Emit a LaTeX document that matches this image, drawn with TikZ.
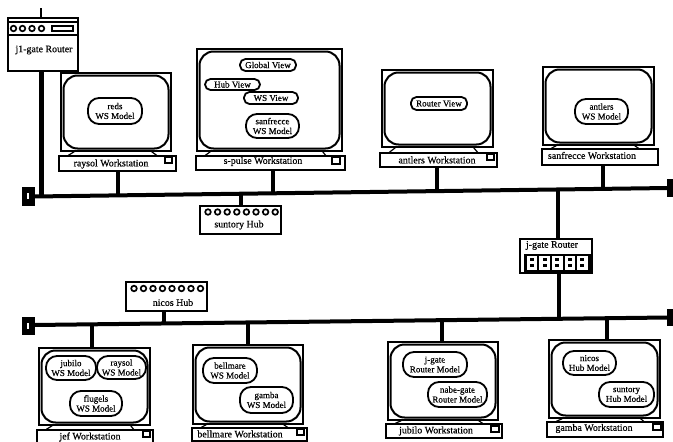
\documentclass[tikz,border=0pt]{standalone}
\usepackage{fontspec}
\setmainfont[FakeBold=0.35]{Liberation Serif}
\tikzset{
  x=1pt,y=-1pt,
  txt/.style={inner sep=0pt,font=\fontsize{9.9}{10}\selectfont,align=center},
  small/.style={inner sep=0pt,font=\fontsize{9}{9.8}\selectfont,align=center},
  box/.style={draw=black,line width=1.5pt,fill=white,inner sep=0pt,rectangle},
  cabinet/.style={box,line width=1.2pt},
  screen/.style={box,line width=2pt,rounded corners=14pt},
  pill/.style={box,line width=1.8pt,rounded corners=5.5pt,small},
  oval/.style={box,line width=1.8pt,rounded corners=11pt,small},
  base/.style={box,line width=1.3pt},
  key/.style={box,line width=1.3pt},
  foot/.style={line width=1.2pt},
  wire/.style={line width=4.2pt},
  thinwire/.style={line width=2.4pt},
  bus/.style={line width=4pt},
  term/.style={draw=black,fill=black,inner sep=0pt,rectangle},
  led/.style={circle,draw=black,line width=1.7pt,fill=white,inner sep=0pt,minimum size=5.6pt},
  port/.style={fill=white,inner sep=0pt,rectangle,minimum width=10.6pt,minimum height=14.4pt},
  portdot/.style={fill=black,inner sep=0pt,rectangle,minimum width=4pt,minimum height=3.4pt}
}
% style, name, x1, y1, x2, y2, text
\newcommand\pxbox[7]{%
  \pgfmathsetmacro\pcx{(#3+#5)/2}\pgfmathsetmacro\pcy{(#4+#6)/2}%
  \pgfmathsetmacro\pw{#5-#3}\pgfmathsetmacro\ph{#6-#4}%
  \node[#1,minimum width=\pw pt,minimum height=\ph pt] (#2) at (\pcx,\pcy) {#7};}
% name, monitor x1,y1,x2,y2, base x1,y1,x2,y2
\newcommand\monitor[9]{%
  \pxbox{cabinet}{#1cab}{#2}{#3}{#4}{#5}{}%
  \pgfmathsetmacro\sa{#2+2.5}\pgfmathsetmacro\sb{#3+2.5}\pgfmathsetmacro\sc{#4-2.5}\pgfmathsetmacro\sd{#5-2.5}%
  \pxbox{screen}{#1scr}{\sa}{\sb}{\sc}{\sd}{}%
  \pxbox{base}{#1base}{#6}{#7}{#8}{#9}{}%
  \draw[foot] ([xshift=14pt]#1cab.south west) -- ([xshift=10pt]#1base.north west);
  \draw[foot] ([xshift=-20pt]#1cab.south east) -- ([xshift=-20pt]#1base.north east);}
\begin{document}
\begin{tikzpicture}
\useasboundingbox (0,0) rectangle (673,442);
\clip (0,0) rectangle (673,442);

% terminators and bus end points
\pxbox{term}{tl1}{22}{187}{34}{205}{}
\pxbox{term}{tr1}{667}{179}{676}{196}{}
\pxbox{term}{tl2}{22}{317}{34}{334}{}
\pxbox{term}{tr2}{667}{309}{676}{325}{}
\fill[white] (27,193) rectangle (29,199);
\fill[white] (27,323) rectangle (29,329);
\coordinate (a1) at (34,196.5);
\coordinate (e1) at (668,188);
\coordinate (a2) at (34,325);
\coordinate (e2) at (668,317.5);

% taps on the buses
\coordinate (t1a) at (41.5,196.4);
\coordinate (t1b) at (118,195.4);
\coordinate (t1c) at (241,193.7);
\coordinate (t1d) at (273,193.3);
\coordinate (t1e) at (437,191);
\coordinate (t1f) at (558,189.5);
\coordinate (t1g) at (603,189);
\coordinate (t2a) at (92,324.4);
\coordinate (t2b) at (164,323.5);
\coordinate (t2c) at (248,322.6);
\coordinate (t2d) at (442,320.4);
\coordinate (t2e) at (559,319);
\coordinate (t2f) at (607,318.4);

% j1-gate router
\pxbox{box}{jone}{8}{18}{78}{71}{}
\coordinate (jup) at (41,8);
\draw[line width=1.2pt] (jone.north west |- 0,22) -- (jone.north east |- 0,22);
\draw[line width=1.2pt] (jone.north west |- 0,35) -- (jone.north east |- 0,35);
\foreach \x in {13.5,22.5,32,41.5}{\node[led] at (\x,28.5) {};}
\draw[line width=1.4pt] (52,26) rectangle (73,31);
\node[txt] (jonet) at (44,50) {j1-gate Router};

% workstations: monitors and bases
\monitor{ray}{61}{73}{171}{151}{59}{156}{176}{171}
\monitor{spu}{197}{49}{342}{151}{196}{156}{345}{170}
\monitor{ant}{382}{70}{493}{147}{380}{153}{497}{167}
\monitor{san}{543}{67}{654}{145}{542}{149}{658}{165}
\monitor{jef}{39}{348}{150}{425}{37}{430}{153}{446}
\monitor{bel}{193}{345}{303}{424}{192}{428}{307}{441}
\monitor{jub}{388}{342}{498}{420}{386}{424}{502}{438}
\monitor{gam}{549}{340}{660}{418}{547}{422}{663}{437}

% base labels
\node[txt] (rayt) at (111,164) {raysol Workstation};
\node[txt] (sput) at (263,161.5) {s-pulse Workstation};
\node[txt] (antt) at (437,160) {antlers Workstation};
\node[txt] (sant) at (592,155.5) {sanfrecce Workstation};
\node[txt] (jeft) at (90,437) {jef Workstation};
\node[txt] (belt) at (240,434) {bellmare Workstation};
\node[txt] (jubt) at (436,431) {jubilo Workstation};
\node[txt] (gamt) at (594,428.5) {gamba Workstation};

% base keys
\pxbox{key}{rayk}{165}{157}{172}{163}{}
\pxbox{key}{spuk}{332}{157}{340}{164}{}
\pxbox{key}{antk}{487}{154}{494}{160}{}
\pxbox{key}{jefk}{143}{431}{150}{437}{}
\pxbox{key}{belk}{297}{429}{304}{435}{}
\pxbox{key}{jubk}{491}{426}{499}{432}{}
\pxbox{key}{gamk}{653}{424}{661}{430}{}

% views and models
\pxbox{oval}{m1}{88}{98}{142}{124}{reds\\WS Model}
\pxbox{pill}{m2}{240}{59}{296}{71}{Global View}
\pxbox{pill}{m3}{205}{79}{260}{90}{Hub View}
\pxbox{pill}{m4}{244}{92}{298}{104}{WS View}
\pxbox{oval}{m5}{246}{114}{299}{138}{sanfrecce\\WS Model}
\pxbox{pill}{m6}{411}{97}{467}{110}{Router View}
\pxbox{oval}{m7}{575}{99}{628}{124}{antlers\\WS Model}
\pxbox{oval}{m8}{46}{356}{96}{380}{jubilo\\WS Model}
\pxbox{oval}{m9}{97}{356}{146}{379}{raysol\\WS Model}
\pxbox{oval}{m10}{70}{391}{122}{416}{flugels\\WS Model}
\pxbox{oval}{m11}{203}{358}{257}{383}{bellmare\\WS Model}
\pxbox{oval}{m12}{240}{387}{293}{413}{gamba\\WS Model}
\pxbox{oval}{m13}{403}{352}{467}{377}{j-gate\\Router Model}
\pxbox{oval}{m14}{428}{382}{487}{407}{nabe-gate\\Router Model}
\pxbox{oval}{m15}{563}{351}{616}{375}{nicos\\Hub Model}
\pxbox{oval}{m16}{599}{382}{654}{407}{suntory\\Hub Model}

% hubs
\pxbox{box}{shub}{200}{206}{281}{234}{}
\foreach \i in {0,...,7}{\node[led] at (208+9.6*\i,212) {};}
\node[txt] (shubt) at (239,225) {suntory Hub};
\pxbox{box}{nhub}{126}{282}{207}{311}{}
\foreach \i in {0,...,7}{\node[led] at (134+9.5*\i,288.5) {};}
\node[txt] (nhubt) at (173,302.5) {nicos Hub};

% j-gate router
\pxbox{box}{jgate}{520}{239}{592}{273}{}
\node[txt] (jgatet) at (552,245.5) {j-gate Router};
\pxbox{term}{panel}{524}{254}{590}{271.5}{}
\foreach \i in {0,...,4}{
  \node[port] at (532+12.6*\i,262.7) {};
  \node[portdot] at (532+12.6*\i,259.5) {};
  \node[portdot] at (532+12.6*\i,265.5) {};
}

% connectors
\draw[bus] (a1) -- (e1);
\draw[bus] (a2) -- (e2);
\draw[thinwire] (jup) -- (jone.north -| jup);
\draw[wire] (jone.south -| t1a) -- (t1a);
\draw[wire] (raybase.south -| t1b) -- (t1b);
\draw[wire] (shub.north -| t1c) -- (t1c);
\draw[wire] (spubase.south -| t1d) -- (t1d);
\draw[wire] (antbase.south -| t1e) -- (t1e);
\draw[wire] (jgate.north -| t1f) -- (t1f);
\draw[wire] (sanbase.south -| t1g) -- (t1g);
\draw[wire] (jefcab.north -| t2a) -- (t2a);
\draw[wire] (nhub.south -| t2b) -- (t2b);
\draw[wire] (belcab.north -| t2c) -- (t2c);
\draw[wire] (jubcab.north -| t2d) -- (t2d);
\draw[wire] (jgate.south -| t2e) -- (t2e);
\draw[wire] (gamcab.north -| t2f) -- (t2f);
\end{tikzpicture}
\end{document}
